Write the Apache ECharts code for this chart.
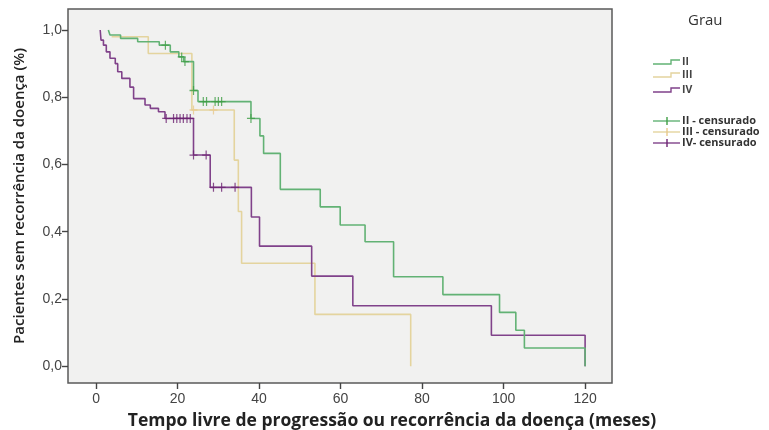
<!DOCTYPE html>
<html>
<head>
<meta charset="utf-8">
<title>Sobrevida livre de progressão por grau</title>
<script src="https://cdn.jsdelivr.net/npm/echarts@6/dist/echarts.min.js"></script>
<style>
  html, body { margin: 0; padding: 0; background: #ffffff; }
  #chart { width: 769px; height: 430px; }
</style>
</head>
<body>
<div id="chart"></div>
<script>
// Kaplan-Meier steps: time (months) and survival right after each step
const gradeIITime = [3.0, 3.4, 6.0, 10.2, 15.5, 18.2, 20.3, 21.5, 23.9, 25.0, 38.0, 40.2, 41.1, 45.2, 55.0, 59.9, 66.0, 73.0, 85.1, 99.0, 103.0, 105.1, 120.0];
const gradeIISurv = [1.0, 0.985, 0.975, 0.965, 0.955, 0.935, 0.92, 0.906, 0.82, 0.787, 0.737, 0.685, 0.633, 0.526, 0.474, 0.42, 0.37, 0.266, 0.213, 0.16, 0.107, 0.054, 0.0];

const gradeIIITime = [3.8, 12.8, 23.5, 33.9, 34.9, 35.7, 53.7, 77.2];
const gradeIIISurv = [0.98, 0.93, 0.762, 0.613, 0.46, 0.306, 0.154, 0.0];

const gradeIVTime = [1.0, 1.2, 1.8, 2.5, 3.4, 4.7, 5.3, 6.3, 8.3, 9.2, 12.0, 13.3, 15.3, 16.9, 23.9, 28.0, 38.1, 40.1, 52.9, 63.0, 97.0, 120.0];
const gradeIVSurv = [1.0, 0.97, 0.955, 0.935, 0.916, 0.9, 0.876, 0.856, 0.83, 0.796, 0.777, 0.767, 0.757, 0.737, 0.628, 0.532, 0.444, 0.357, 0.268, 0.18, 0.092, 0.0];

// censored observations (months)
const censorIITime = [17.0, 21.0, 21.8, 23.9, 26.3, 27.1, 29.2, 30.0, 30.8, 38.0];
const censorIIITime = [23.9, 28.8];
const censorIVTime = [17.2, 19.0, 19.8, 20.6, 21.4, 22.3, 23.1, 23.9, 27.0, 28.8, 30.8, 34.1];

const xTicks = [0, 20, 40, 60, 80, 100, 120];
const yTicks = [0, 0.2, 0.4, 0.6, 0.8, 1.0];

const legendNames = ['II', 'III', 'IV'];
const censorNames = ['II - censurado', 'III - censurado', 'IV- censurado'];

const lineColors = ['#62b274', '#e4d49e', '#80428a'];
const censorColors = ['#3f9e45', '#e9c98c', '#6d2372'];

function pairs(t, s) { return t.map((v, i) => [v, s[i]]); }

// survival level of a step curve at time t
function levelAt(t, times, surv) {
  let v = surv[0];
  for (let i = 0; i < times.length; i++) {
    if (times[i] <= t + 1e-9) v = surv[i]; else break;
  }
  return v;
}

const plusPath = 'path://M6.8,0H9.2V6.8H16V9.2H9.2V16H6.8V9.2H0V6.8H6.8Z';

const curveDefs = [
  { t: gradeIIITime, s: gradeIIISurv, c: censorIIITime, k: 1 },
  { t: gradeIVTime, s: gradeIVSurv, c: censorIVTime, k: 2 },
  { t: gradeIITime, s: gradeIISurv, c: censorIITime, k: 0 }
];

const series = [];
curveDefs.forEach(d => {
  series.push({
    type: 'line',
    step: 'end',
    data: pairs(d.t, d.s),
    showSymbol: false,
    silent: true,
    lineStyle: { color: lineColors[d.k], width: 1.6 },
    z: 2
  });
});
curveDefs.forEach(d => {
  series.push({
    type: 'scatter',
    data: d.c.map(t => [t, levelAt(t, d.t, d.s)]),
    symbol: plusPath,
    symbolSize: [8, 9],
    silent: true,
    itemStyle: { color: censorColors[d.k] },
    z: 3
  });
});

// legend drawn as graphic elements
const graphic = [];
graphic.push({
  type: 'text', left: 688, top: 13,
  style: { text: 'Grau', font: '15px "Open Sans", sans-serif', fill: '#333' }
});
const stepRows = [62, 75, 90];
stepRows.forEach((y, i) => {
  graphic.push({
    type: 'polyline',
    shape: { points: [[653, y + 2], [671, y + 2], [671, y - 2], [680, y - 2]] },
    style: { stroke: lineColors[i], lineWidth: 1.4, fill: null }
  });
  graphic.push({
    type: 'text', x: 682, y: y,
    style: { text: legendNames[i], font: 'bold 10.5px "Open Sans", sans-serif', fill: '#444', textVerticalAlign: 'middle' }
  });
});
const censorRows = [121, 132, 143];
censorRows.forEach((y, i) => {
  graphic.push({
    type: 'line',
    shape: { x1: 653, y1: y, x2: 680, y2: y },
    style: { stroke: lineColors[i], lineWidth: 1.4 }
  });
  graphic.push({
    type: 'line',
    shape: { x1: 667, y1: y - 4, x2: 667, y2: y + 4 },
    style: { stroke: censorColors[i], lineWidth: 1.4 }
  });
  graphic.push({
    type: 'text', x: 682, y: y,
    style: { text: censorNames[i], font: 'bold 11px "Open Sans", sans-serif', fill: '#333', textVerticalAlign: 'middle' }
  });
});
// axis titles
graphic.push({
  type: 'text', x: 392, y: 421,
  style: {
    text: 'Tempo livre de progressão ou recorrência da doença (meses)',
    font: 'bold 17.5px "Open Sans", sans-serif', fill: '#222',
    textAlign: 'center', textVerticalAlign: 'middle'
  }
});
graphic.push({
  type: 'text', x: 20, y: 196, rotation: Math.PI / 2,
  style: {
    text: 'Pacientes sem recorrência da doença (%)',
    font: '600 15px "Open Sans", sans-serif', fill: '#222',
    textAlign: 'center', textVerticalAlign: 'middle'
  }
});

const chart = echarts.init(document.getElementById('chart'), null, { renderer: 'canvas' });
chart.setOption({
  animation: false,
  backgroundColor: '#ffffff',
  grid: {
    left: 68, top: 9, width: 544, height: 374,
    show: true, backgroundColor: '#f1f1f0', borderColor: '#5a5a5a', borderWidth: 1.5
  },
  xAxis: {
    type: 'value', min: -6.9, max: 126.6,
    axisLine: { show: false, onZero: false },
    splitLine: { show: false },
    axisTick: { show: true, inside: false, length: 6, customValues: xTicks, lineStyle: { color: '#444', width: 1.4 } },
    axisLabel: { customValues: xTicks, color: '#444', fontSize: 14, margin: 9, fontFamily: '"Liberation Sans", Arial, sans-serif' }
  },
  yAxis: {
    type: 'value', min: -0.05, max: 1.0625,
    axisLine: { show: false, onZero: false },
    splitLine: { show: false },
    axisTick: { show: true, inside: false, length: 6, customValues: yTicks, lineStyle: { color: '#444', width: 1.4 } },
    axisLabel: {
      customValues: yTicks, color: '#444', fontSize: 14, margin: 6,
      fontFamily: '"Liberation Sans", Arial, sans-serif',
      formatter: v => v.toFixed(1).replace('.', ',')
    }
  },
  series: series,
  graphic: graphic
});
</script>
</body>
</html>
